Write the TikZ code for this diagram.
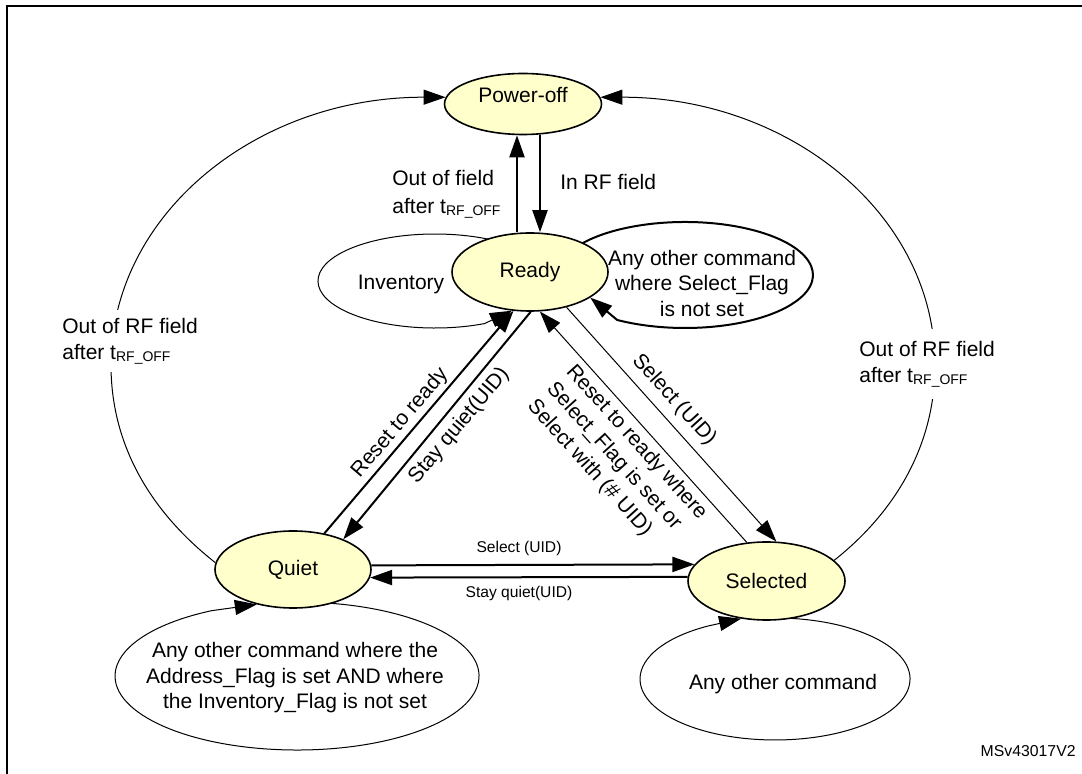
\documentclass[tikz,border=0pt]{standalone}
\usepackage{fontspec}
\setmainfont{Liberation Sans}
\usetikzlibrary{arrows.meta,shapes.geometric,backgrounds}
\definecolor{statefill}{HTML}{FFFFCC}
\newcommand{\trf}{t\raisebox{-1pt}{\fontsize{7}{8}\selectfont RF\_OFF}}
\begin{document}
\begin{tikzpicture}[x=0.5pt,y=-0.5pt,
  every node/.style={font=\fontsize{10.5}{12.75}\selectfont},
  state/.style={ellipse, draw, line width=0.8pt, fill=statefill, minimum width=78pt, minimum height=39pt, inner sep=0pt},
  tip/.style={-{Triangle[length=11pt,width=7.5pt]}},
  thickc/.style={line width=1pt, tip},
  thinc/.style={line width=0.5pt, tip},
  lbl/.style={align=left, inner sep=1pt},
  small/.style={font=\fontsize{7.8}{9}\selectfont},
  rot/.style={inner sep=0pt}
]
\useasboundingbox (0,0) rectangle (1082,774);
% frame
\draw[line width=1pt] (7.3,774) -- (7.3,6) -- (1082,6);

% states
\node[state, minimum width=78.5pt, minimum height=30.5pt] (pow) at (523,104) {};
\node (powt) at (523,95) {Power-off};
\node[state] (ready) at (530,272) {Ready};
\node[state, minimum height=38.5pt] (quiet) at (293,569.5) {Quiet};
\node[state, minimum width=78.5pt] (selected) at (766.5,581) {Selected};

\coordinate (upx) at (517,0);
\coordinate (dnx) at (540,0);
\coordinate (invs) at (524.6,250.8);
\coordinate (rls) at (574.1,248.5);
\coordinate (qls) at (312.9,602.3);
\coordinate (sls) at (786.8,618.2);
\coordinate (lmid) at (111,365);
\coordinate (rmid) at (935,365);

\begin{pgfonlayer}{background}
  % self loops
  \draw[thinc] (invs) arc[start angle=40, end angle=295, x radius=58.5pt, y radius=23.5pt] -- (ready.245);
  \draw[thickc] (rls) arc[start angle=150, end angle=-122, x radius=64pt, y radius=26.5pt] -- (ready.-23);
  \draw[thinc] (qls) arc[start angle=85, end angle=-242, x radius=91pt, y radius=37pt] -- (quiet.224);
  \draw[thinc] (sls) arc[start angle=85, end angle=-240, x radius=67.5pt, y radius=30.5pt] -- (selected.236);
  % big arcs to power-off
  \draw[thinc] (quiet.175) .. controls (149,510.5) and (111,443.5) .. (lmid) .. controls (111,215) and (256,97) .. (pow.175);
  \draw[thinc] (selected.17) .. controls (897,510.5) and (935,443.5) .. (rmid) .. controls (935,215) and (790,97) .. (pow.5);
\end{pgfonlayer}

% loop texts
\node (invt) at (401,284) {Inventory};
\node[align=center] (rloopt) at (702,283) {Any other command\\where Select\_Flag\\is not set};
\node[align=center] (qloopt) at (295,678) {Any other command where the\\Address\_Flag is set AND where\\the Inventory\_Flag is not set};
\node (sloopt) at (783,684) {Any other command};

% vertical connectors
\draw[thickc] (ready.north -| upx) -- (pow.south -| upx);
\draw[thickc] (pow.south -| dnx) -- (ready.north -| dnx);
\node[lbl, anchor=west, font=\fontsize{10.5}{14}\selectfont] (oflbl) at (390,194) {Out of field\\after \trf};
\node[lbl, anchor=west] (inlbl) at (558,182) {In RF field};

% diagonal connectors
\draw[thickc] (quiet.49) -- (ready.247);
\draw[thickc] (ready.271) -- (quiet.31);
\draw[thinc] (ready.316) -- (selected.76);
\draw[thinc] (selected.117) -- (ready.284);
\node[rot, rotate=49.5] (rtr) at (400,423) {Reset to ready};
\node[rot, rotate=50] (sqd) at (459,426) {Stay quiet(UID)};
\node[rot, rotate=-48] (sel1) at (674,400) {Select (UID)};
\node[rot, rotate=-48, align=left, font=\fontsize{10.5}{13}\selectfont] (rsel) at (617,460) {Reset to ready where\\Select\_Flag is set or\\Select with (\# UID)};

% horizontal connectors
\draw[thickc] (quiet.3) -- (selected.167);
\draw[thickc] (selected.177) -- (quiet.-6);
\node[small] (qsl) at (519,548) {Select (UID)};
\node[small] (sql) at (519,593) {Stay quiet(UID)};

% arc labels
\node[lbl, fill=white, inner xsep=1pt, inner ysep=4pt, anchor=west, font=\fontsize{10.5}{13}\selectfont] (loutl) at (60,341) {Out of RF field\\after \trf};
\node[lbl, fill=white, inner xsep=1pt, inner ysep=6pt, anchor=west, font=\fontsize{10.5}{13}\selectfont] (routl) at (857,364) {Out of RF field\\after \trf};

\node[font=\fontsize{7.9}{9}\selectfont, anchor=east, inner sep=0pt] (ms) at (1076,751) {MSv43017V2};
\end{tikzpicture}
\end{document}
